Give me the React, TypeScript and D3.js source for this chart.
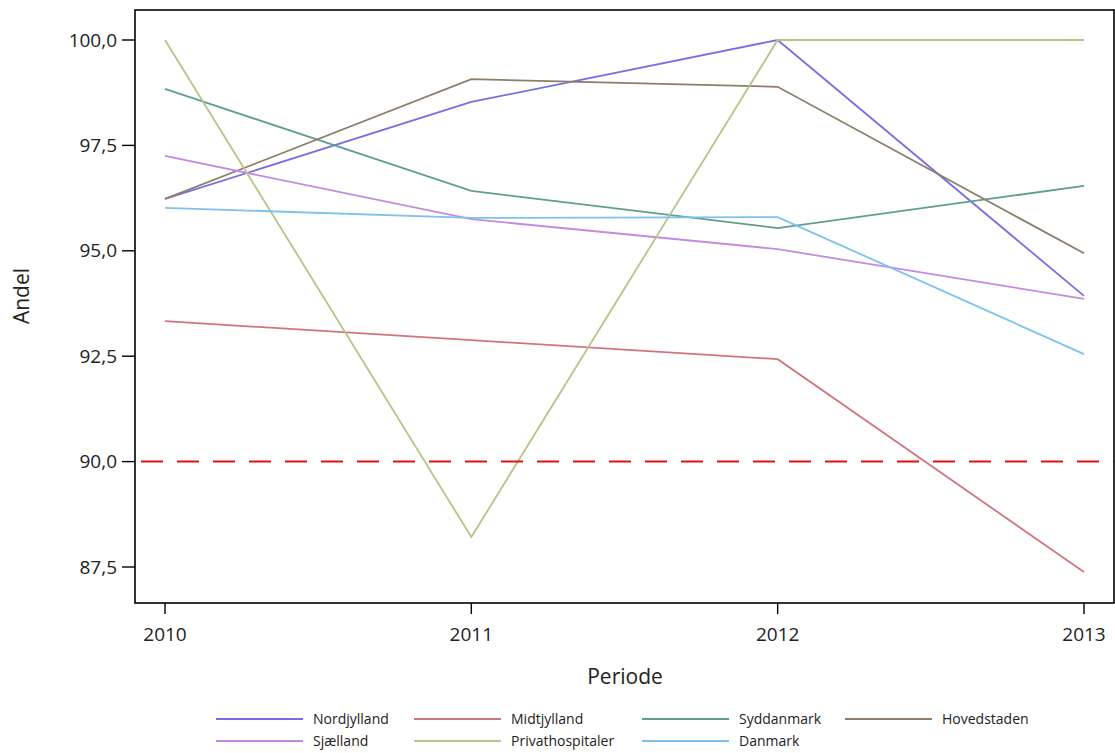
import React from "react";
import * as d3 from "d3";

const years = [2010, 2011, 2012, 2013];
const yTicks = [87.5, 90, 92.5, 95, 97.5, 100];
const referenceValue = 90;

const seriesNames = ["Nordjylland", "Midtjylland", "Syddanmark", "Hovedstaden", "Sjælland", "Privathospitaler", "Danmark"];
const nordjylland = [96.23, 98.53, 100.0, 93.93];
const midtjylland = [93.33, 92.88, 92.43, 87.38];
const syddanmark = [98.84, 96.42, 95.54, 96.54];
const hovedstaden = [96.23, 99.07, 98.89, 94.94];
const sjaelland = [97.25, 95.75, 95.04, 93.86];
const privathospitaler = [100.0, 88.21, 100.0, 100.0];
const danmark = [96.02, 95.78, 95.8, 92.55];
const seriesColors = ["#7a6de3", "#d07580", "#5f9e90", "#8d7d69", "#c48ae2", "#b6c487", "#7dc1ef"];

const seriesValues = [nordjylland, midtjylland, syddanmark, hovedstaden, sjaelland, privathospitaler, danmark];

const W = 1115, H = 753;
const left = 135, right = 1114, top = 10, bottom = 603;

export default function App() {
  const x = d3.scaleLinear().domain([2010, 2013]).range([165, 1084]);
  const y = d3.scaleLinear().domain([87.5, 100]).range([567, 40]);
  const line = d3.line<number>().x((_, i) => x(years[i])).y((v) => y(v));
  const fmt = (v: number) => d3.format(".1f")(v).replace(".", ",");

  const legendCols = [216, 414, 642, 845];
  const legendRows = [719, 741];
  const font = "'Open Sans', sans-serif";

  return (
    <svg width={W} height={H} style={{ position: "absolute", left: 0, top: 0, background: "#fff" }}>
      <rect x={0} y={0} width={W} height={H} fill="#fff" />
      {seriesValues.map((vals, i) => (
        <path key={i} d={line(vals) || ""} fill="none" stroke={seriesColors[i]} strokeWidth={1.8} />
      ))}
      <line x1={left} x2={right} y1={y(referenceValue)} y2={y(referenceValue)} stroke="#e41010" strokeWidth={2} strokeDasharray="22 14" strokeDashoffset={-6} />
      <rect x={left} y={top} width={right - left} height={bottom - top} fill="none" stroke="#000" strokeWidth={1.6} />
      {yTicks.map((t) => (
        <g key={t}>
          <line x1={left - 13} x2={left} y1={y(t)} y2={y(t)} stroke="#000" strokeWidth={1.4} />
          <text x={117} y={y(t)} dy="0.35em" textAnchor="end" fontFamily={font} fontSize={19} fill="#222">{fmt(t)}</text>
        </g>
      ))}
      {years.map((yr) => (
        <g key={yr}>
          <line x1={x(yr)} x2={x(yr)} y1={bottom} y2={bottom + 11} stroke="#000" strokeWidth={1.4} />
          <text x={x(yr)} y={634} dy="0.35em" textAnchor="middle" fontFamily={font} fontSize={19} fill="#222">{yr}</text>
        </g>
      ))}
      <text transform={`translate(22,296) rotate(-90)`} textAnchor="middle" dy="0.35em" fontFamily={font} fontSize={21} fill="#222">Andel</text>
      <text x={625} y={677} textAnchor="middle" dy="0.35em" fontFamily={font} fontSize={21} fill="#222">Periode</text>
      {seriesNames.map((name, i) => {
        const col = i % 4;
        const row = Math.floor(i / 4);
        const lx = legendCols[col];
        const ly = legendRows[row];
        return (
          <g key={name}>
            <line x1={lx} x2={lx + 87} y1={ly} y2={ly} stroke={seriesColors[i]} strokeWidth={2} />
            <text x={lx + 97} y={ly} dy="0.35em" fontFamily={font} fontSize={14} fill="#222">{name}</text>
          </g>
        );
      })}
    </svg>
  );
}
